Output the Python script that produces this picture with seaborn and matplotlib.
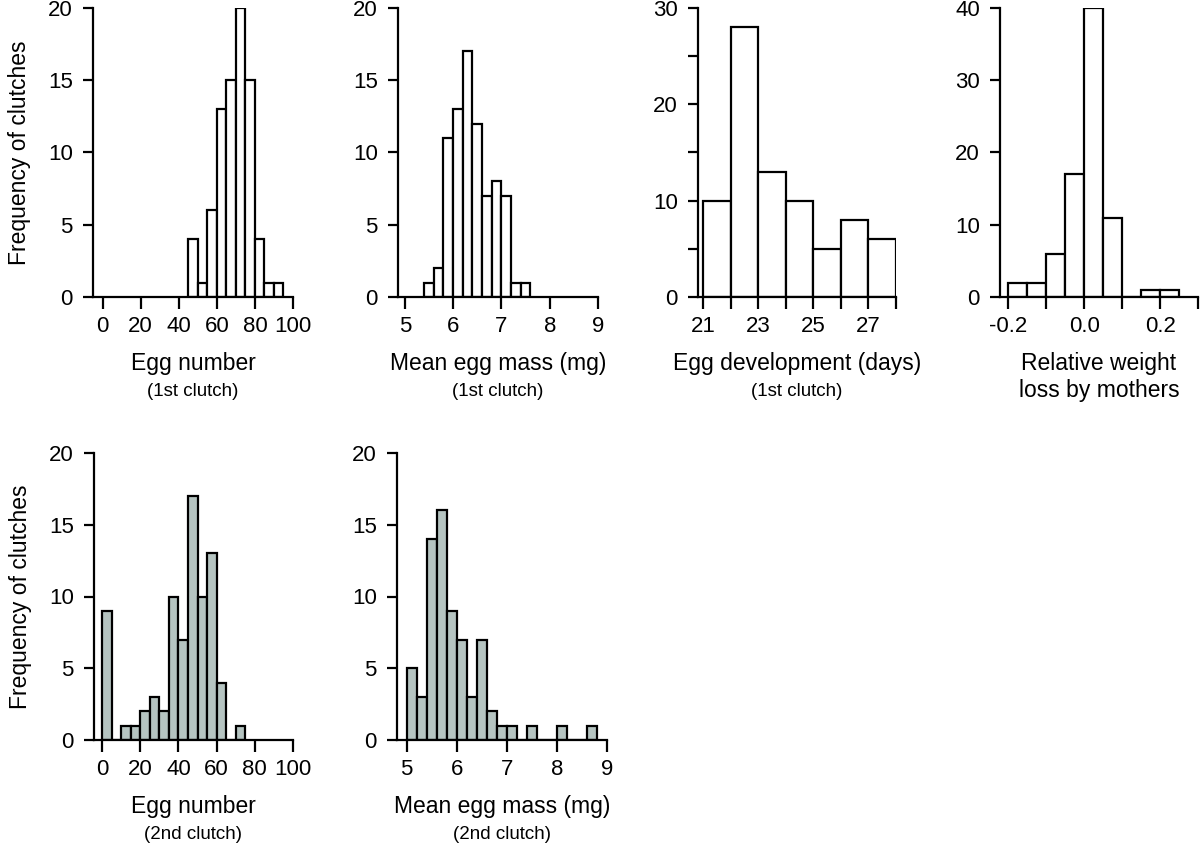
import numpy as np
import pandas as pd
import matplotlib.pyplot as plt
import seaborn as sns

# bin edges and clutch counts
egg_num1_bins = [45, 50, 55, 60, 65, 70, 75, 80, 85, 90, 95]
egg_num1_counts = [4, 1, 6, 13, 15, 20, 15, 4, 1, 1]

egg_mass1_bins = [5.4, 5.6, 5.8, 6.0, 6.2, 6.4, 6.6, 6.8, 7.0, 7.2, 7.4, 7.6]
egg_mass1_counts = [1, 2, 11, 13, 17, 12, 7, 8, 7, 1, 1]

dev_bins = [21, 22, 23, 24, 25, 26, 27, 28]
dev_counts = [10, 28, 13, 10, 5, 8, 6]

wloss_bins = [-0.2, -0.15, -0.1, -0.05, 0.0, 0.05, 0.1, 0.15, 0.2, 0.25]
wloss_counts = [2, 2, 6, 17, 40, 11, 0, 1, 1]

egg_num2_bins = [0, 5, 10, 15, 20, 25, 30, 35, 40, 45, 50, 55, 60, 65, 70, 75]
egg_num2_counts = [9, 0, 1, 1, 2, 3, 2, 10, 7, 17, 10, 13, 4, 0, 1]

egg_mass2_bins = [5.0, 5.2, 5.4, 5.6, 5.8, 6.0, 6.2, 6.4, 6.6, 6.8, 7.0,
                  7.2, 7.4, 7.6, 7.8, 8.0, 8.2, 8.4, 8.6, 8.8]
egg_mass2_counts = [5, 3, 14, 16, 9, 7, 3, 7, 2, 1, 1, 0, 1, 0, 0, 1, 0, 0, 1]

sns.set_theme(style="ticks")
plt.rcParams['font.family'] = ['Liberation Sans', 'DejaVu Sans']
plt.rcParams['axes.linewidth'] = 1.6
plt.rcParams['xtick.major.width'] = 1.6
plt.rcParams['ytick.major.width'] = 1.6
plt.rcParams['xtick.major.size'] = 8.5
plt.rcParams['ytick.major.size'] = 7.5
plt.rcParams['xtick.major.pad'] = 5
plt.rcParams['ytick.major.pad'] = 7
plt.rcParams['xtick.labelsize'] = 16
plt.rcParams['ytick.labelsize'] = 16
plt.rcParams['xtick.color'] = 'black'
plt.rcParams['ytick.color'] = 'black'
plt.rcParams['axes.edgecolor'] = 'black'

W, H = 1200, 847
fig = plt.figure(figsize=(12, 8.47), dpi=100)

grey = '#b5c4c1'


def panel(px_left, px_right, px_top, px_bottom):
    return fig.add_axes([px_left / W, 1 - px_bottom / H,
                         (px_right - px_left) / W, (px_bottom - px_top) / H])


def draw(ax, bins, counts, color):
    edges = np.array(bins)
    df = pd.DataFrame({'mid': (edges[:-1] + edges[1:]) / 2, 'n': counts})
    sns.histplot(data=df, x='mid', weights='n', bins=list(bins), color=color,
                 edgecolor='black', linewidth=1.6, alpha=1, ax=ax)
    ax.set_ylabel('')
    sns.despine(ax=ax)


def labels(ax, xlabel, sub=None):
    ax.set_xlabel(xlabel, fontsize=16.5, labelpad=11, color='black')
    if sub:
        ax.annotate(sub, xy=(0.5, 0), xycoords='axes fraction',
                    xytext=(0, -68), textcoords='offset points',
                    ha='center', va='center', fontsize=13.5, color='black')


# top row
ax1 = panel(93, 293, 8, 297)
draw(ax1, egg_num1_bins, egg_num1_counts, 'white')
ax1.set_xlim(-5, 100)
ax1.set_ylim(0, 20)
ax1.set_xticks([0, 20, 40, 60, 80, 100])
ax1.set_yticks([0, 5, 10, 15, 20])
labels(ax1, 'Egg number', '(1st clutch)')
ax1.set_ylabel('Frequency of clutches', fontsize=16.5, labelpad=12, color='black')

ax2 = panel(398, 598, 8, 297)
draw(ax2, egg_mass1_bins, egg_mass1_counts, 'white')
ax2.set_xlim(4.86, 9)
ax2.set_ylim(0, 20)
ax2.set_xticks([5, 6, 7, 8, 9])
ax2.set_yticks([0, 5, 10, 15, 20])
labels(ax2, 'Mean egg mass (mg)', '(1st clutch)')

ax3 = panel(698, 896, 8, 297)
draw(ax3, dev_bins, dev_counts, 'white')
ax3.set_xlim(20.8, 28)
ax3.set_ylim(0, 30)
ax3.set_xticks([21, 22, 23, 24, 25, 26, 27, 28])
ax3.set_xticklabels(['21', '', '23', '', '25', '', '27', ''])
ax3.set_yticks([0, 5, 10, 15, 20, 25, 30])
ax3.set_yticklabels(['0', '', '10', '', '20', '', '30'])
labels(ax3, 'Egg development (days)', '(1st clutch)')

ax4 = panel(1000, 1198, 8, 297)
draw(ax4, wloss_bins, wloss_counts, 'white')
ax4.set_xlim(-0.222, 0.3)
ax4.set_ylim(0, 40)
ax4.set_xticks([-0.2, -0.1, 0.0, 0.1, 0.2, 0.3])
ax4.set_xticklabels(['-0.2', '', '0.0', '', '0.2', ''])
ax4.set_yticks([0, 10, 20, 30, 40])
labels(ax4, 'Relative weight\nloss by mothers')

# bottom row
ax5 = panel(94, 293, 453, 740)
draw(ax5, egg_num2_bins, egg_num2_counts, grey)
ax5.set_xlim(-4.2, 100)
ax5.set_ylim(0, 20)
ax5.set_xticks([0, 20, 40, 60, 80, 100])
ax5.set_yticks([0, 5, 10, 15, 20])
labels(ax5, 'Egg number', '(2nd clutch)')
ax5.set_ylabel('Frequency of clutches', fontsize=16.5, labelpad=12, color='black')

ax6 = panel(397, 607, 453, 740)
draw(ax6, egg_mass2_bins, egg_mass2_counts, grey)
ax6.set_xlim(4.81, 9)
ax6.set_ylim(0, 20)
ax6.set_xticks([5, 6, 7, 8, 9])
ax6.set_yticks([0, 5, 10, 15, 20])
labels(ax6, 'Mean egg mass (mg)', '(2nd clutch)')

fig.savefig('out.png', dpi=100, facecolor='white')
